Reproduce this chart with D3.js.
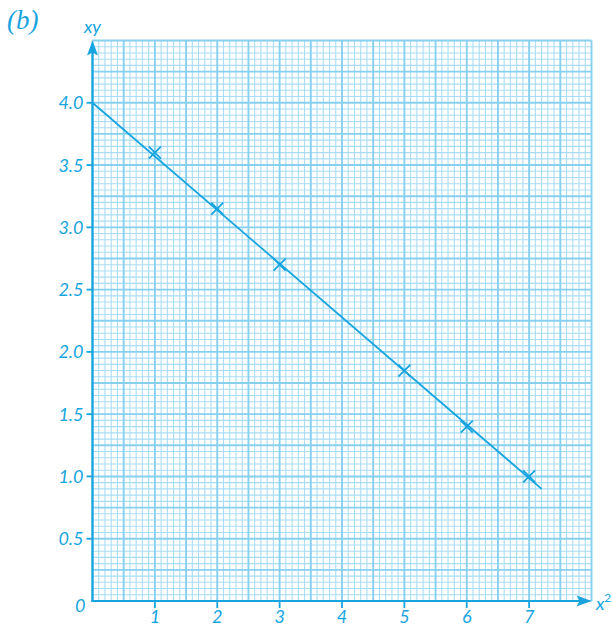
<!DOCTYPE html>
<html>
<head>
<meta charset="utf-8">
<script src="https://cdn.jsdelivr.net/npm/d3@7"></script>
<style>
  html, body { margin: 0; padding: 0; background: #fff; }
  svg { display: block; }
</style>
</head>
<body>
<svg id="chart" width="612" height="628"></svg>
<script>
// ---- data ----
const pointX = [1, 2, 3, 5, 6, 7];
const pointY = [3.6, 3.15, 2.7, 1.85, 1.4, 1.0];
const lineX = [0, 7.2];
const lineY = [4.0, 0.9];
const xTicks = [1, 2, 3, 4, 5, 6, 7];
const xTickLabels = ["1", "2", "3", "4", "5", "6", "7"];
const yTicks = [0.5, 1.0, 1.5, 2.0, 2.5, 3.0, 3.5, 4.0];
const yTickLabels = ["0.5", "1.0", "1.5", "2.0", "2.5", "3.0", "3.5", "4.0"];
const xDomain = [0, 8];
const yDomain = [0, 4.5];

// ---- style ----
const BLUE = "#17a4df";
const FINE = "#a9ddf5";
const MID = "#88d0f0";
const FONT = "Lato, 'Open Sans', sans-serif";

const svg = d3.select("#chart");
const x = d3.scaleLinear().domain(xDomain).range([92.5, 591.5]);
const y = d3.scaleLinear().domain(yDomain).range([601, 40.5]);

// ---- grid ----
const grid = svg.append("g");
const xFine = d3.range(0, 81).map(i => i / 10);
const yFine = d3.range(0, 91).map(i => i / 20);
grid.selectAll("line.xf").data(xFine.filter((d, i) => i % 5 !== 0)).join("line")
  .attr("x1", d => x(d)).attr("x2", d => x(d))
  .attr("y1", y(yDomain[0])).attr("y2", y(yDomain[1]))
  .attr("stroke", FINE).attr("stroke-width", 1.1);
grid.selectAll("line.yf").data(yFine.filter((d, i) => i % 5 !== 0)).join("line")
  .attr("y1", d => y(d)).attr("y2", d => y(d))
  .attr("x1", x(xDomain[0])).attr("x2", x(xDomain[1]))
  .attr("stroke", FINE).attr("stroke-width", 1.1);
grid.selectAll("line.xm").data(xFine.filter((d, i) => i % 5 === 0)).join("line")
  .attr("x1", d => x(d)).attr("x2", d => x(d))
  .attr("y1", y(yDomain[0])).attr("y2", y(yDomain[1]))
  .attr("stroke", MID).attr("stroke-width", 1.9);
grid.selectAll("line.ym").data(yFine.filter((d, i) => i % 5 === 0)).join("line")
  .attr("y1", d => y(d)).attr("y2", d => y(d))
  .attr("x1", x(xDomain[0])).attr("x2", x(xDomain[1]))
  .attr("stroke", MID).attr("stroke-width", 1.9);

// ---- axes ----
const ax = svg.append("g").attr("stroke", BLUE).attr("fill", BLUE);
ax.append("line").attr("x1", x(0)).attr("x2", x(0)).attr("y1", y(0) + 1).attr("y2", 50)
  .attr("stroke-width", 2.2);
ax.append("path").attr("d", `M${x(0)},${y(yDomain[1])} L${x(0) - 5.5},${y(yDomain[1]) + 15} L${x(0)},${y(yDomain[1]) + 12} L${x(0) + 5.5},${y(yDomain[1]) + 15} Z`)
  .attr("stroke", "none");
ax.append("line").attr("x1", x(0) - 1).attr("x2", x(xDomain[1]) - 10).attr("y1", y(0)).attr("y2", y(0))
  .attr("stroke-width", 2.2);
ax.append("path").attr("d", `M${x(xDomain[1])},${y(0)} L${x(xDomain[1]) - 15},${y(0) - 5.5} L${x(xDomain[1]) - 12},${y(0)} L${x(xDomain[1]) - 15},${y(0) + 5.5} Z`)
  .attr("stroke", "none");

ax.selectAll("line.yt").data(yTicks).join("line")
  .attr("x1", x(0) - 6).attr("x2", x(0)).attr("y1", d => y(d)).attr("y2", d => y(d))
  .attr("stroke-width", 1.8);
ax.selectAll("line.xt").data(xTicks).join("line")
  .attr("x1", d => x(d)).attr("x2", d => x(d)).attr("y1", y(0)).attr("y2", y(0) + 7)
  .attr("stroke-width", 1.8);

// tick labels
const lab = svg.append("g").attr("fill", BLUE).attr("font-family", FONT)
  .attr("font-style", "italic").attr("font-size", 18);
lab.selectAll("text.yl").data(yTicks).join("text")
  .attr("x", x(0) - 9).attr("y", d => y(d) + 6.5)
  .attr("text-anchor", "end").text((d, i) => yTickLabels[i]);
lab.selectAll("text.xl").data(xTicks).join("text")
  .attr("x", d => x(d)).attr("y", y(0) + 22)
  .attr("text-anchor", "middle").text((d, i) => xTickLabels[i]);
lab.append("text").attr("x", x(0) - 7).attr("y", y(0) + 11).attr("text-anchor", "end").text("0");

// axis titles
lab.append("text").attr("x", x(0)).attr("y", 33).attr("text-anchor", "middle").text("xy");
const xt = lab.append("text").attr("x", 596).attr("y", 610);
xt.append("tspan").text("x");
xt.append("tspan").attr("dy", -8).attr("font-size", 12).attr("font-style", "normal").text("2");

// panel label
svg.append("text").attr("x", 7).attr("y", 29).attr("fill", BLUE)
  .attr("font-family", "'Liberation Serif', 'DejaVu Serif', serif").attr("font-style", "italic")
  .attr("font-size", 27).text("(b)");

// ---- fitted line ----
const lineData = lineX.map((d, i) => [d, lineY[i]]);
svg.append("path").datum(lineData)
  .attr("d", d3.line().x(d => x(d[0])).y(d => y(d[1])))
  .attr("fill", "none").attr("stroke", BLUE).attr("stroke-width", 1.8);

// ---- crosses ----
const pts = pointX.map((d, i) => [d, pointY[i]]);
const s = 6;
svg.append("g").selectAll("path").data(pts).join("path")
  .attr("d", d => {
    const cx = x(d[0]), cy = y(d[1]);
    return `M${cx - s},${cy - s}L${cx + s},${cy + s}M${cx - s},${cy + s}L${cx + s},${cy - s}`;
  })
  .attr("stroke", BLUE).attr("stroke-width", 1.8).attr("fill", "none");
</script>
</body>
</html>
